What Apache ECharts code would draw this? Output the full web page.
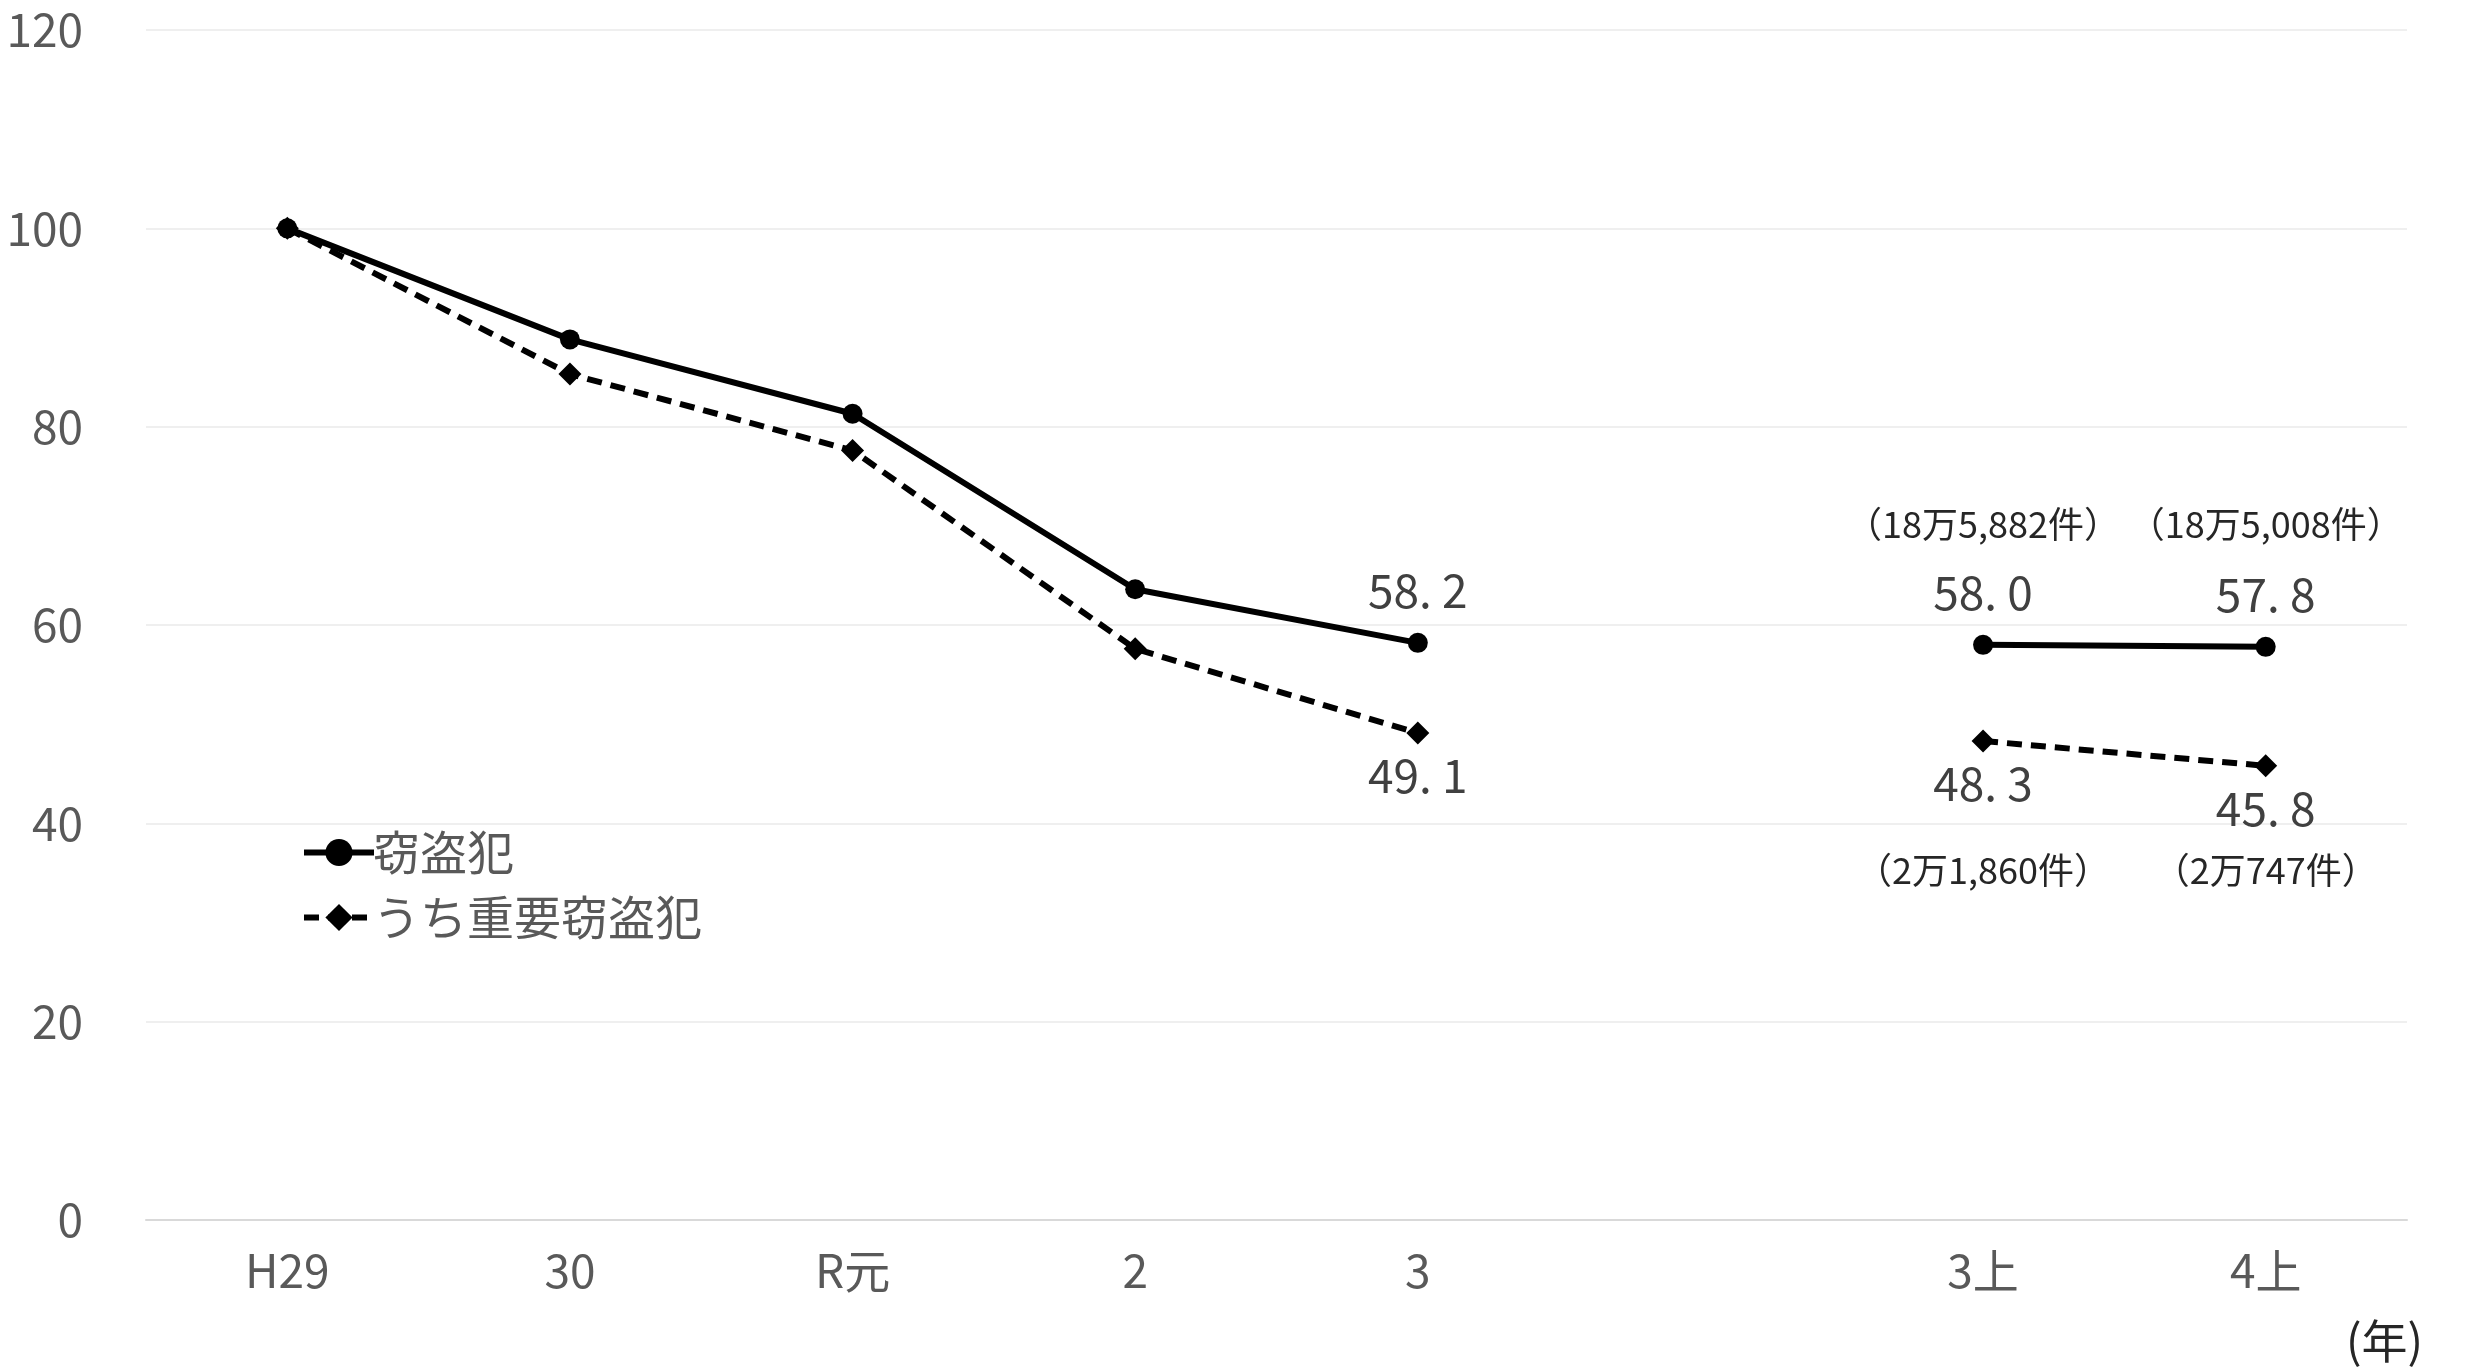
<!DOCTYPE html>
<html>
<head>
<meta charset="utf-8">
<script src="https://cdn.jsdelivr.net/npm/echarts@6/dist/echarts.min.js"></script>
<style>
  html, body { margin: 0; padding: 0; background: #ffffff; }
  #chart { width: 2467px; height: 1369px; }
</style>
</head>
<body>
<div id="chart"></div>
<script>
// 窃盗犯の認知件数の推移（H29 = 100 とした指数）
const categories = ['H29', '30', 'R元', '2', '3', '', '3上', '4上'];
const theftIndex = [100, 88.8, 81.3, 63.6, 58.2, null, 58.0, 57.8];
const majorTheftIndex = [100, 85.3, 77.6, 57.6, 49.1, null, 48.3, 45.8];
// 上半期の件数注記
const theftCounts = ['', '', '', '', '', '', '（18万5,882件）', '（18万5,008件）'];
const majorTheftCounts = ['', '', '', '', '', '', '（2万1,860件）', '（2万747件）'];
const yTicks = [0, 20, 40, 60, 80, 100, 120];
const seriesNames = ['窃盗犯', 'うち重要窃盗犯'];
const unitLabel = '(年)';

const FONT = "'Noto Sans CJK JP', sans-serif";
// 件数注記を置く高さ（y 軸の値）
const UPPER_NOTE_LEVEL = 70.2;
const LOWER_NOTE_LEVEL = 35.3;

function fmt(v) {
  return v.toFixed(1).replace('.', '. ');
}

// 値ラベルは 3 以降の点にだけ付ける
function valueLabel(p) {
  return p.dataIndex >= 4 && p.value != null ? fmt(p.value) : '';
}

function noteMarks(notes, level) {
  const out = [];
  notes.forEach(function (n, i) {
    if (n) out.push({ coord: [categories[i], level], value: n });
  });
  return out;
}

const noteMarkStyle = {
  symbol: 'circle',
  symbolSize: 0,
  silent: true,
  label: {
    show: true,
    position: 'inside',
    formatter: function (p) { return p.value; },
    fontFamily: FONT, fontSize: 36, color: '#262626'
  }
};

const chart = echarts.init(document.getElementById('chart'), null, { renderer: 'canvas' });

chart.setOption({
  backgroundColor: '#ffffff',
  animation: false,
  grid: { left: 146, right: 60, top: 30, bottom: 149, containLabel: false },
  legend: {
    orient: 'vertical',
    left: 296,
    top: 824,
    itemWidth: 70,
    itemHeight: 34,
    itemGap: 18,
    lineStyle: { width: 6 },
    textStyle: { fontFamily: FONT, fontSize: 47, color: '#595959', padding: [0, 0, 0, -6] },
    data: seriesNames
  },
  xAxis: {
    type: 'category',
    data: categories,
    boundaryGap: true,
    axisLine: { lineStyle: { color: '#d9d9d9', width: 2 } },
    axisTick: { show: false },
    axisLabel: { color: '#595959', fontFamily: FONT, fontSize: 46, margin: 28, interval: 0 },
    splitLine: { show: false }
  },
  yAxis: {
    type: 'value',
    min: yTicks[0],
    max: yTicks[yTicks.length - 1],
    interval: 20,
    axisLine: { show: false },
    axisTick: { show: false },
    axisLabel: { color: '#595959', fontFamily: FONT, fontSize: 46, margin: 63 },
    splitLine: { lineStyle: { color: '#efefef', width: 2 } }
  },
  graphic: [{
    type: 'text',
    right: 44,
    top: 1318,
    style: { text: unitLabel, fontFamily: FONT, fontSize: 46, fill: '#262626' }
  }],
  series: [
    {
      name: seriesNames[0],
      type: 'line',
      data: theftIndex,
      connectNulls: false,
      symbol: 'circle',
      symbolSize: 20,
      itemStyle: { color: '#000000' },
      lineStyle: { color: '#000000', width: 6 },
      label: {
        show: true,
        position: 'top',
        distance: 19,
        formatter: valueLabel,
        fontFamily: FONT, fontSize: 46, color: '#404040'
      },
      markPoint: Object.assign({ data: noteMarks(theftCounts, UPPER_NOTE_LEVEL) }, noteMarkStyle)
    },
    {
      name: seriesNames[1],
      type: 'line',
      data: majorTheftIndex,
      connectNulls: false,
      symbol: 'diamond',
      symbolSize: 23,
      itemStyle: { color: '#000000' },
      lineStyle: { color: '#000000', width: 6, type: [15, 9] },
      label: {
        show: true,
        position: 'bottom',
        distance: 8,
        formatter: valueLabel,
        fontFamily: FONT, fontSize: 46, color: '#404040'
      },
      markPoint: Object.assign({ data: noteMarks(majorTheftCounts, LOWER_NOTE_LEVEL) }, noteMarkStyle)
    }
  ]
});
</script>
</body>
</html>
